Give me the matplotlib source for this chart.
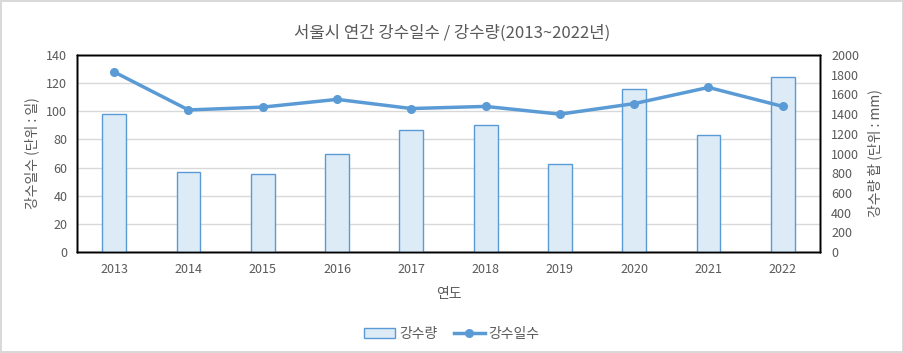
import numpy as np
import matplotlib.pyplot as plt

plt.rcParams['font.family'] = ['Noto Sans CJK KR', 'DejaVu Sans']

years = ['2013', '2014', '2015', '2016', '2017', '2018', '2019', '2020', '2021', '2022']
rain_mm = [1404, 808, 790, 992, 1235, 1286, 891, 1651, 1186, 1774]
rain_days = [128, 101, 103, 108.5, 102, 103.5, 98, 105.5, 117, 103.5]
day_ticks = [0, 20, 40, 60, 80, 100, 120, 140]
mm_ticks = [0, 200, 400, 600, 800, 1000, 1200, 1400, 1600, 1800, 2000]


def main():
    blue = '#5B9BD5'
    fill = '#DDEBF7'
    grey = '#595959'
    x = np.arange(len(years))

    fig = plt.figure(figsize=(9.04, 3.53), dpi=100, edgecolor='#d9d9d9', linewidth=1.5)
    fig.subplots_adjust(left=0.0852, right=0.907, top=0.844, bottom=0.286)
    ax = fig.add_subplot(111)

    # left axis: days, carries the grid
    ax.set_ylim(0, 140)
    ax.set_yticks(day_ticks)
    ax.set_xlim(-0.5, len(years) - 0.5)
    ax.set_xticks(x)
    ax.set_xticklabels(years)
    ax.grid(axis='y', color='#d9d9d9', linewidth=1)
    ax.set_axisbelow(True)
    ax.tick_params(length=0, labelsize=9, labelcolor=grey, pad=7)
    ax.tick_params(axis='x', pad=8)
    ax.set_ylabel('강수일수 (단위 : 일)', fontsize=10, color=grey, labelpad=5)
    ax.set_xlabel('연도', fontsize=10, color=grey, labelpad=8)

    # right axis: precipitation bars
    axb = ax.twinx()
    axb.set_ylim(0, 2000)
    axb.set_yticks(mm_ticks)
    axb.patch.set_visible(False)
    bars = axb.bar(x, rain_mm, width=0.32, color=fill, edgecolor=blue, linewidth=1, label='강수량')
    axb.tick_params(length=0, labelsize=9, labelcolor=grey, pad=8)
    axb.set_ylabel('강수량 합 (단위 : mm)', fontsize=10, color=grey, rotation=90, labelpad=6)

    # line on top
    axl = ax.twinx()
    axl.set_ylim(0, 140)
    axl.set_yticks([])
    axl.patch.set_visible(False)
    line, = axl.plot(x, rain_days, color=blue, linewidth=2.5, marker='o', markersize=5.5, label='강수일수')

    for a in (ax, axb, axl):
        for s in a.spines.values():
            s.set_color('black')
            s.set_linewidth(1)

    fig.suptitle('서울시 연간 강수일수 / 강수량(2013~2022년)', fontsize=12, color=grey, y=0.93)
    fig.legend([bars, line], ['강수량', '강수일수'], loc='center', bbox_to_anchor=(0.5, 0.055),
               ncol=2, frameon=False, fontsize=10, labelcolor=grey, handlelength=2.2,
               handletextpad=0.3, columnspacing=1.2)

    fig.savefig('out.png', dpi=100)


if __name__ == '__main__':
    main()
